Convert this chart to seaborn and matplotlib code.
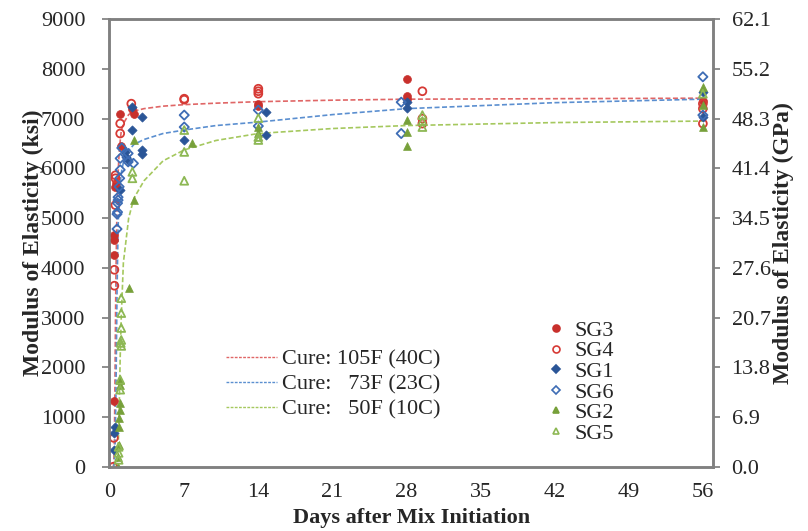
import numpy as np
import pandas as pd
import matplotlib
matplotlib.use("Agg")
import matplotlib.pyplot as plt
import seaborn as sns
from matplotlib.lines import Line2D

# ---- data (days, ksi) ----
sg3_days = [0.4, 0.4, 0.4, 0.4, 0.5, 0.55, 0.95, 1.05, 2.1, 2.3, 14, 14, 28, 28, 28, 56]
sg3_ksi = [1330, 4260, 4560, 4660, 5630, 5700, 7100, 6450, 7200, 7100, 7300, 7250, 7800, 7450, 7400, 7350]

sg4_days = [0.3, 0.35, 0.4, 0.4, 0.5, 0.5, 0.5, 0.95, 0.95, 2.0, 7, 7, 14, 14, 14, 29.5, 29.5, 29.5, 56, 56, 56]
sg4_ksi = [0, 580, 3640, 3960, 5260, 5800, 5860, 6900, 6700, 7300, 7400, 7380, 7600, 7550, 7500, 7550, 7000, 6900, 7300, 7200, 6900]

sg1_days = [0.4, 0.4, 0.5, 0.95, 1.4, 1.5, 1.7, 2.1, 2.1, 3.0, 3.0, 3.0, 7, 14.7, 14.7, 28, 28, 56, 56]
sg1_ksi = [340, 680, 800, 5560, 6330, 6230, 6170, 7230, 6770, 7030, 6370, 6290, 6570, 7130, 6670, 7340, 7210, 7530, 7030]

sg6_days = [0.65, 0.65, 0.7, 0.7, 0.75, 0.75, 0.85, 0.9, 0.95, 0.95, 1.1, 1.7, 1.7, 2.2, 7, 7, 14, 14, 27.5, 27.5, 56, 56]
sg6_ksi = [4780, 5080, 5120, 5300, 5360, 5420, 5630, 5800, 5970, 6200, 6410, 6300, 6130, 6100, 6830, 7070, 7170, 6850, 7330, 6700, 7840, 7070]

sg2_days = [0.7, 0.7, 0.8, 0.8, 0.85, 0.9, 0.9, 0.95, 0.95, 1.8, 2.3, 2.3, 7.7, 14, 14, 28, 28, 28, 56, 56, 56]
sg2_ksi = [0, 200, 440, 800, 980, 1150, 1290, 1650, 1750, 3600, 5360, 6570, 6500, 6830, 6710, 6970, 6730, 6450, 7630, 7270, 6830]

sg5_days = [0.8, 0.8, 0.8, 0.95, 0.95, 1.0, 1.05, 1.05, 1.05, 1.05, 1.05, 2.1, 2.1, 7, 7, 7, 14, 14, 14, 29.5, 29.5, 29.5, 56]
sg5_ksi = [140, 280, 400, 1550, 1750, 2490, 2430, 2550, 2790, 3090, 3390, 5930, 5800, 6330, 5750, 6770, 6570, 6630, 7010, 7070, 6950, 6830, 7500]

# fitted cure curves, read as points along each dashed line
fit_days = [0.3, 0.35, 0.4, 0.45, 0.5, 0.55, 0.65, 0.75, 0.85, 0.95, 1.05, 1.25, 1.75, 2.25, 3.2, 5, 7, 10, 14, 21, 28, 42, 56]
fit_105f = [0, 100, 500, 1500, 2800, 3900, 5200, 5900, 6300, 6550, 6750, 6900, 7080, 7150, 7200, 7250, 7280, 7310, 7340, 7370, 7390, 7400, 7410]
fit_73f = [0, 20, 80, 300, 800, 1500, 3500, 4800, 5400, 5700, 5900, 6120, 6360, 6480, 6580, 6700, 6770, 6860, 6930, 7080, 7200, 7320, 7390]
fit_50f = [0, 0, 0, 0, 0, 0, 50, 300, 1100, 2200, 3000, 4100, 5000, 5400, 5750, 6150, 6370, 6560, 6700, 6800, 6860, 6920, 6950]
cure_labels = ["Cure: 105F (40C)", "Cure:   73F (23C)", "Cure:   50F (10C)"]

ksi_ticks = [0, 1000, 2000, 3000, 4000, 5000, 6000, 7000, 8000, 9000]
gpa_labels = ["0.0", "6.9", "13.8", "20.7", "27.6", "34.5", "41.4", "48.3", "55.2", "62.1"]
day_ticks = [0, 7, 14, 21, 28, 35, 42, 49, 56]

sns.set_theme(style="white")
plt.rcParams["font.family"] = ["Liberation Serif", "DejaVu Serif"]

fig = plt.figure(figsize=(8.08, 5.31), dpi=100)
ax = fig.add_axes([0.135, 0.121, 0.748, 0.843])

red_line = "#E06666"
blue_line = "#5B8FD0"
green_line = "#A5C85E"

curves = pd.DataFrame({
    "day": fit_days * 3,
    "ksi": fit_105f + fit_73f + fit_50f,
    "cure": [cure_labels[0]] * len(fit_days) + [cure_labels[1]] * len(fit_days) + [cure_labels[2]] * len(fit_days),
})
sns.lineplot(data=curves, x="day", y="ksi", hue="cure", hue_order=cure_labels,
             palette=[red_line, blue_line, green_line], linestyle=(0, (3, 1.5)),
             linewidth=1.2, ax=ax, legend=False, zorder=2)

series = [
    ("SG3", sg3_days, sg3_ksi, "o", "#C8302C", True),
    ("SG4", sg4_days, sg4_ksi, "o", "#D63A35", False),
    ("SG1", sg1_days, sg1_ksi, "D", "#2A5597", True),
    ("SG6", sg6_days, sg6_ksi, "D", "#3E6DB5", False),
    ("SG2", sg2_days, sg2_ksi, "^", "#77A03A", True),
    ("SG5", sg5_days, sg5_ksi, "^", "#8DB854", False),
]
handles = []
for name, d, k, mk, col, filled in series:
    ms = 32 if mk != "D" else 22
    if filled:
        sns.scatterplot(x=d, y=k, marker=mk, color=col, s=ms, edgecolor=col,
                        linewidth=0.5, ax=ax, zorder=3)
    else:
        sns.scatterplot(x=d, y=k, marker=mk, s=ms, facecolor="none", edgecolor=col,
                        linewidth=1.3, ax=ax, zorder=3)
    handles.append(Line2D([], [], linestyle="none", marker=mk, markersize=5 if mk != "D" else 4.5,
                          markerfacecolor=col if filled else "white",
                          markeredgecolor=col, markeredgewidth=1.2, label=name))

ax.set_xlim(-0.1, 57.0)
ax.set_ylim(0, 9000)
ax.set_xticks(day_ticks)
ax.set_yticks(ksi_ticks)
ax.tick_params(axis="x", direction="in", length=5, color="#808080", labelsize=16, pad=12)
ax.tick_params(axis="y", direction="out", length=5, color="#808080", labelsize=16, left=True, pad=12)
ax.set_xlabel("Days after Mix Initiation", fontsize=16, fontweight="bold", labelpad=4)
ax.set_ylabel("Modulus of Elasticity (ksi)", fontsize=17, fontweight="bold", labelpad=-2)
for sp in ax.spines.values():
    sp.set_color("#808080")
    sp.set_linewidth(1.8)

ax2 = ax.twinx()
ax2.set_ylim(0, 9000)
ax2.set_yticks(ksi_ticks)
ax2.set_yticklabels(gpa_labels)
ax2.tick_params(axis="y", direction="out", length=5, color="#808080", labelsize=16, right=True, pad=8)
ax2.set_ylabel("Modulus of Elasticity (GPa)", fontsize=17, fontweight="bold", labelpad=2)
for sp in ax2.spines.values():
    sp.set_color("#808080")
    sp.set_linewidth(1.8)

line_handles = [Line2D([], [], color=c, linestyle=(0, (2, 1)), linewidth=1.0, label=l)
                for c, l in zip([red_line, blue_line, green_line], cure_labels)]
leg1 = ax.legend(handles=line_handles, loc="upper left", bbox_to_anchor=(0.178, 0.282),
                 frameon=False, fontsize=16, handlelength=2.3, handletextpad=0.25,
                 labelspacing=0.2, borderaxespad=0)
ax.add_artist(leg1)
ax.legend(handles=handles, loc="upper left", bbox_to_anchor=(0.707, 0.347),
          frameon=False, fontsize=16, handlelength=1.0, handletextpad=0.3,
          labelspacing=0.0, borderaxespad=0)

fig.savefig("out.png", dpi=100)
